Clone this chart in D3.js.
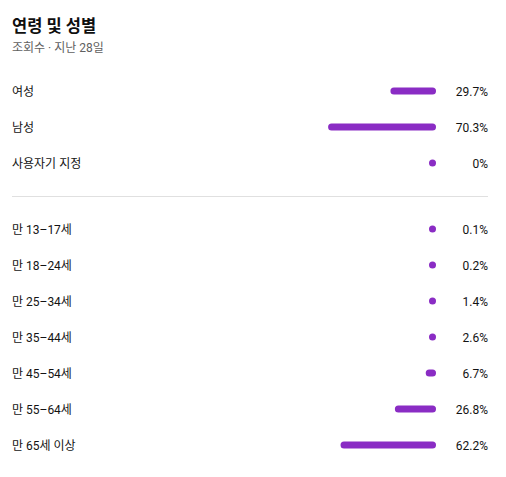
<!DOCTYPE html>
<html><head><meta charset="utf-8">
<script src="https://cdn.jsdelivr.net/npm/d3@7"></script>
<style>
html,body{margin:0;padding:0;background:#fff;}
svg{display:block;font-family:Roboto,"Noto Sans CJK KR",sans-serif;}
</style></head>
<body>
<script>
const title = "연령 및 성별";
const subtitle = "조회수 · 지난 28일";
const genderLabels = ["여성", "남성", "사용자기 지정"];
const genderValues = [29.7, 70.3, 0];
const genderText = ["29.7%", "70.3%", "0%"];
const ageLabels = ["만 13–17세", "만 18–24세", "만 25–34세", "만 35–44세", "만 45–54세", "만 55–64세", "만 65세 이상"];
const ageValues = [0.1, 0.2, 1.4, 2.6, 6.7, 26.8, 62.2];
const ageText = ["0.1%", "0.2%", "1.4%", "2.6%", "6.7%", "26.8%", "62.2%"];

const W = 506, H = 477;
const svg = d3.select("body").append("svg").attr("width", W).attr("height", H);

svg.append("text").attr("x", 12).attr("y", 32).text(title)
  .attr("font-size", 16.5).attr("font-weight", 700).attr("fill", "#0f0f0f");
svg.append("text").attr("x", 12).attr("y", 52).text(subtitle)
  .attr("font-size", 12).attr("fill", "#606060");

const xEnd = 436, barH = 7;
const len = d3.scaleLinear().domain([0, 100]).range([0, 153.5]);

function drawGroup(labels, values, texts, y0) {
  const y = d3.scalePoint().domain(labels).range([y0, y0 + 36 * (labels.length - 1)]);
  const g = svg.append("g");
  labels.forEach((lab, i) => {
    const cy = y(lab);
    g.append("text").attr("x", 12).attr("y", cy + 4.5).text(lab)
      .attr("font-size", 12).attr("fill", "#131313");
    const w = Math.max(barH, len(values[i]));
    g.append("rect").attr("x", xEnd - w).attr("y", cy - barH / 2)
      .attr("width", w).attr("height", barH)
      .attr("rx", barH / 2).attr("ry", barH / 2)
      .attr("fill", "#8a2cc4");
    g.append("text").attr("x", 488).attr("y", cy + 4.5).text(texts[i])
      .attr("text-anchor", "end").attr("font-size", 12).attr("fill", "#131313");
  });
}
drawGroup(genderLabels, genderValues, genderText, 91);
svg.append("line").attr("x1", 12).attr("x2", 488).attr("y1", 196.5).attr("y2", 196.5)
  .attr("stroke", "#e0e0e0").attr("stroke-width", 1);
drawGroup(ageLabels, ageValues, ageText, 229);
</script>
</body></html>
